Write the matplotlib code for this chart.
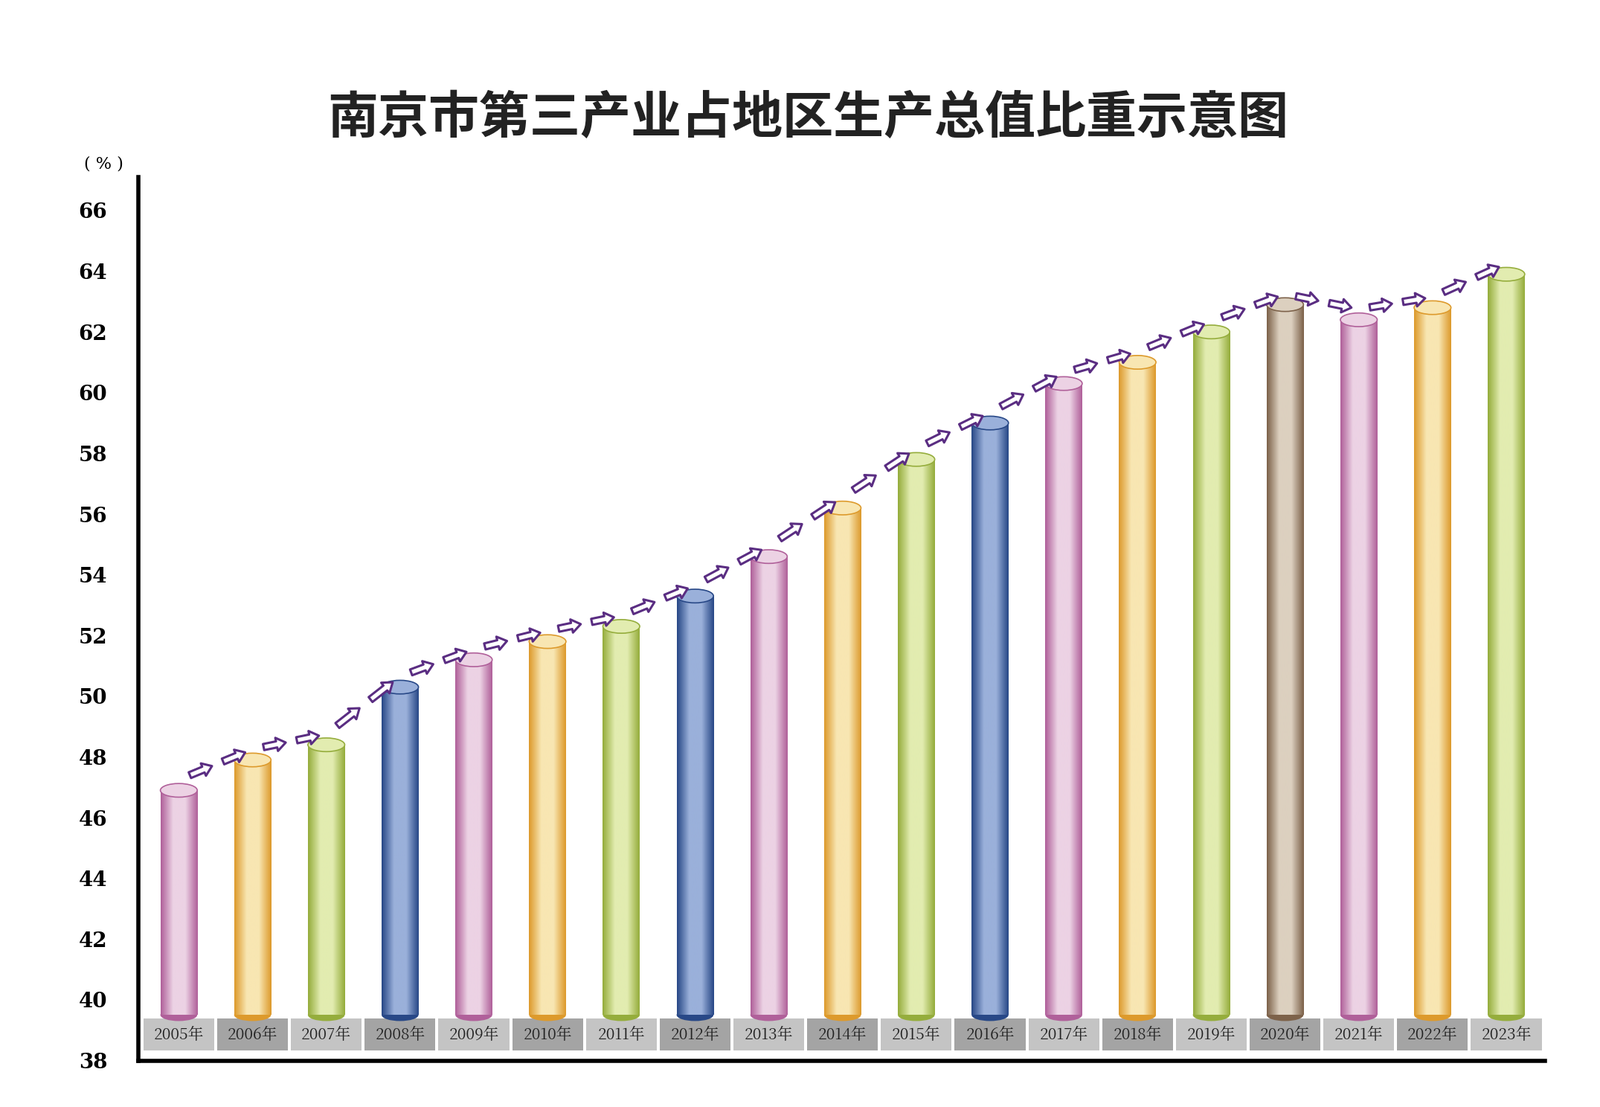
import matplotlib
matplotlib.use("Agg")
import matplotlib.pyplot as plt
import numpy as np
from matplotlib.colors import LinearSegmentedColormap
from matplotlib.patches import Ellipse, Rectangle
from matplotlib import font_manager as fm

years = ["2005年","2006年","2007年","2008年","2009年","2010年","2011年","2012年","2013年","2014年",
         "2015年","2016年","2017年","2018年","2019年","2020年","2021年","2022年","2023年"]
values = [46.9,47.9,48.4,50.3,51.2,51.8,52.3,53.3,54.6,56.2,57.8,59.0,60.3,61.0,62.0,62.9,62.4,62.8,63.9]
color_keys = ["pink","yellow","green","blue","pink","yellow","green","blue","pink","yellow",
              "green","blue","pink","yellow","green","brown","pink","yellow","green"]
yticks = list(range(38, 67, 2))

palette = {
    "pink": ("#b0609a", "#ecd2e4"),
    "yellow": ("#dd9a2c", "#f8e6b2"),
    "green": ("#95ad3c", "#e2ecb0"),
    "blue": ("#284887", "#9ab0da"),
    "brown": ("#7d624a", "#dcd0bf"),
}

cjk_files = [f for f in fm.findSystemFonts() if "CJK" in f or "cjk" in f.lower()]
bold = [f for f in cjk_files if "Bold" in f]
reg = [f for f in cjk_files if "Regular" in f]
fp_title = fm.FontProperties(fname=(bold or cjk_files)[0], size=49) if cjk_files else fm.FontProperties(size=49)
fp_lab = fm.FontProperties(fname=(reg or cjk_files)[0], size=15) if cjk_files else fm.FontProperties(size=15)

fig = plt.figure(figsize=(21.51, 14.88), dpi=100)
ax = fig.add_axes([0.0864, 0.042, 0.879, 0.798])
ax.set_xlim(-0.55, 18.52)
ax.set_ylim(38, 67.1)
base = 39.5
w = 0.5
grad = np.linspace(0, 1, 64)
for i, (v, ck) in enumerate(zip(values, color_keys)):
    dark, light = palette[ck]
    cmap = LinearSegmentedColormap.from_list(ck, [dark, light, light, dark], N=256)
    prof = np.array([np.interp(grad, [0, 0.4, 0.5, 1], [0, 0.4, 0.5, 1])])
    ax.imshow(prof, cmap=cmap, extent=[i - w/2, i + w/2, base, v], aspect="auto", zorder=2, interpolation="bilinear")
    ax.add_patch(Ellipse((i, base), w, 0.4, facecolor=dark, edgecolor="none", zorder=1.9))
    ax.add_patch(Ellipse((i, v), w, 0.45, facecolor=light, edgecolor=dark, lw=1.2, zorder=3))
    ax.add_patch(Rectangle((i - 0.48, 38.33), 0.96, 1.05, facecolor="#c4c4c4" if i % 2 == 0 else "#a4a4a4",
                           edgecolor="none", zorder=1))
    ax.text(i, 38.85, years[i], ha="center", va="center", color="#222222", zorder=4, fontproperties=fp_lab)

for i in range(len(values) - 1):
    for f in (0.15, 0.6):
        x0 = i + f
        x1 = x0 + 0.3
        y0 = values[i] + (values[i+1] - values[i]) * f + 0.35
        y1 = values[i] + (values[i+1] - values[i]) * (f + 0.3) + 0.35
        ax.annotate("", xy=(x1, y1), xytext=(x0, y0), zorder=5,
                    arrowprops=dict(arrowstyle="simple,head_width=1.3,head_length=0.9,tail_width=0.6",
                                    fc="white", ec="#5a2d82", lw=2.2, shrinkA=0, shrinkB=0))

for s in ["top", "right"]:
    ax.spines[s].set_visible(False)
ax.spines["left"].set_linewidth(4)
ax.spines["bottom"].set_linewidth(4)
ax.set_xticks([])
ax.set_yticks(yticks)
ax.set_yticklabels([str(t) for t in yticks], fontsize=20, fontweight="bold", family="DejaVu Serif")
ax.tick_params(axis="y", length=0, pad=30)
fig.text(0.065, 0.852, "( % )", fontsize=16, ha="center", va="center", family="DejaVu Serif")
fig.text(0.505, 0.893, "南京市第三产业占地区生产总值比重示意图", ha="center", va="center",
         color="#222222", fontproperties=fp_title)
fig.savefig("out.png", dpi=100)
